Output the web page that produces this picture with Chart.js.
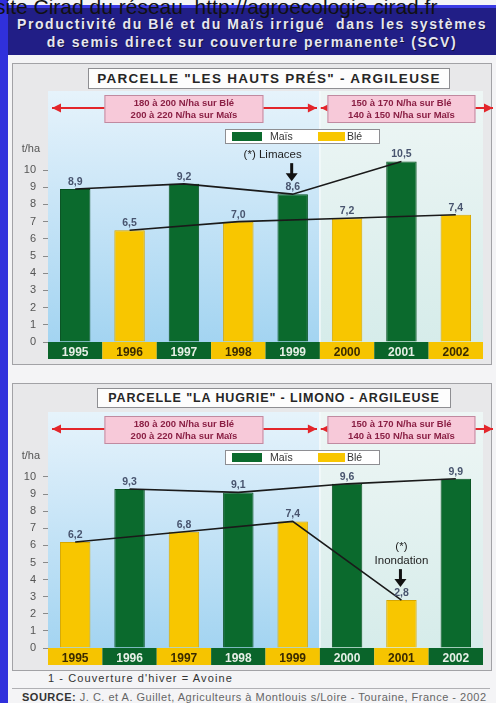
<!DOCTYPE html>
<html>
<head>
<meta charset="utf-8">
<script src="https://cdn.jsdelivr.net/npm/chart.js@4.4.1/dist/chart.umd.min.js"></script>
<style>
    body { margin: 0; width: 496px; height: 703px; overflow: hidden; position: relative; background: #f4f4f6; font-family: "Liberation Sans", Arial, sans-serif; }
    .leftBar { position: absolute; left: 0; top: 0; width: 8px; height: 703px; background: #3030dc; z-index: 4; }
    .topLink { position: absolute; left: -5px; top: -5px; font-size: 21px; color: #111; white-space: nowrap; z-index: 5; }
    .header { position: absolute; left: 8px; top: 5px; width: 488px; height: 47px; background: #211e86; border-top: 3px solid #3b3be4; }
    .header div { color: #e6e6f0; font-weight: bold; font-size: 14px; text-align: center; letter-spacing: 1.6px; white-space: nowrap; text-shadow: 1px 1px 0 #111140; }
    .panel { position: absolute; left: 12px; width: 478px; background: #e8e8ea; border: 1px solid #a2a2a6; }
    .ptitle { position: absolute; background: #fdfdfd; border: 1px solid #8e8e92; font-weight: bold; font-size: 13.5px; letter-spacing: 1.3px; text-align: center; color: #262626; z-index: 3; white-space: nowrap; }
    canvas { position: absolute; left: 12px; z-index: 2; }
    .note { position: absolute; font-size: 11px; letter-spacing: 0.5px; color: #333; white-space: nowrap; }
    .rule { position: absolute; left: 12px; top: 688px; width: 478px; height: 1px; background: #b0b0b4; }
</style>
</head>
<body>
<div class="leftBar"></div>
<div class="topLink">site Cirad du réseau&nbsp; http://agroecologie.cirad.fr</div>
<div class="header">
    <div style="margin-top:8px">Productivité du Blé et du Maïs irrigué&nbsp; dans les systèmes</div>
    <div style="margin-top:2px">de semis direct sur couverture permanente¹ (SCV)</div>
</div>

<div class="panel" style="top:63px;height:300px"></div>
<div class="ptitle" style="left:88px;top:68px;width:360px;height:19px;line-height:19px">PARCELLE "LES HAUTS PRÉS" - ARGILEUSE</div>
<canvas id="chartHautsPres" width="484" height="302" style="top:63px"></canvas>

<div class="panel" style="top:383px;height:286px"></div>
<div class="ptitle" style="left:97px;top:388px;width:352px;height:18px;line-height:18px;font-size:12.5px;letter-spacing:0.9px">PARCELLE "LA HUGRIE" - LIMONO - ARGILEUSE</div>
<canvas id="chartHugrie" width="484" height="288" style="top:383px"></canvas>

<div class="note" style="left:48px;top:672px;letter-spacing:1.1px">1 - Couverture d'hiver = Avoine</div>
<div class="rule"></div>
<div class="note" style="left:22px;top:691px;color:#666;letter-spacing:0.5px"><b style="color:#333">SOURCE:</b> J. C. et A. Guillet, Agriculteurs à Montlouis s/Loire - Touraine, France - 2002</div>

<script>
    // annees
    const years1 = ['1995', '1996', '1997', '1998', '1999', '2000', '2001', '2002'];
    const years2 = ['1995', '1996', '1997', '1998', '1999', '2000', '2001', '2002'];

    // rendements t/ha - parcelle "Les Hauts Prés"
    const mais1 = [8.9, null, 9.2, null, 8.6, null, 10.5, null];
    const ble1 = [null, 6.5, null, 7.0, null, 7.2, null, 7.4];

    // rendements t/ha - parcelle "La Hugrie"
    const mais2 = [null, 9.3, null, 9.1, null, 9.6, null, 9.9];
    const ble2 = [6.2, null, 6.8, null, 7.4, null, 2.8, null];

    const yTicks = [0, 1, 2, 3, 4, 5, 6, 7, 8, 9, 10];

    // fumure azotee (avant / apres 2000)
    const doseAvant = ['180 à 200 N/ha sur Blé', '200 à 220 N/ha sur Maïs'];
    const doseApres = ['150 à 170 N/ha sur Blé', '140 à 150 N/ha sur Maïs'];
    const firstYearApres = 5; // index de 2000

    const note1 = { index: 4, text: ['(*) Limaces'] };
    const note2 = { index: 6, text: ['(*)', 'Inondation'] };

    const colMais = '#0b6a2d';
    const colBle = '#f8c600';
    const FONT = '"Liberation Sans", Arial, sans-serif';

    function fmt(v) {
        return v.toFixed(1).replace('.', ',');
    }

    function arrow(ctx, x1, x2, y, dir) {
        // dir = -1 pointe a gauche, 1 a droite
        let tip = dir < 0 ? x1 : x2;
        ctx.beginPath();
        ctx.moveTo(x1, y);
        ctx.lineTo(x2, y);
        ctx.stroke();
        ctx.beginPath();
        ctx.moveTo(tip, y);
        ctx.lineTo(tip - dir * 9, y - 4.5);
        ctx.lineTo(tip - dir * 9, y + 4.5);
        ctx.closePath();
        ctx.fill();
    }

    function pinkBox(ctx, cx, w, top, h, lines) {
        ctx.fillStyle = '#f7c9d9';
        ctx.fillRect(cx - w / 2, top, w, h);
        ctx.strokeStyle = '#c08aa0';
        ctx.lineWidth = 1;
        ctx.strokeRect(cx - w / 2 + 0.5, top + 0.5, w - 1, h - 1);
        ctx.fillStyle = '#8a1f44';
        ctx.font = 'bold 9.5px ' + FONT;
        ctx.textAlign = 'center';
        ctx.textBaseline = 'middle';
        ctx.fillText(lines[0], cx, top + h / 2 - 6);
        ctx.fillText(lines[1], cx, top + h / 2 + 6);
    }

    const decor = {
        id: 'decor',
        beforeDraw: function (chart) {
            const ctx = chart.ctx;
            const ca = chart.chartArea;
            const x = chart.scales.x;
            const step = x.getPixelForValue(1) - x.getPixelForValue(0);
            const split = (x.getPixelForValue(firstYearApres - 1) + x.getPixelForValue(firstYearApres)) / 2;
            ctx.save();

            let g1 = ctx.createLinearGradient(0, ca.top, 0, ca.bottom);
            g1.addColorStop(0, '#e6f3fb');
            g1.addColorStop(0.35, '#cfe8f8');
            g1.addColorStop(1, '#a3d4f1');
            ctx.fillStyle = g1;
            ctx.fillRect(ca.left, ca.top, split - ca.left, ca.bottom - ca.top);

            let g2 = ctx.createLinearGradient(0, ca.top, 0, ca.bottom);
            g2.addColorStop(0, '#eef6f5');
            g2.addColorStop(1, '#d6ecea');
            ctx.fillStyle = g2;
            ctx.fillRect(split, ca.top, ca.right - split, ca.bottom - ca.top);

            ctx.strokeStyle = '#f6fafc';
            ctx.lineWidth = 1.5;
            ctx.beginPath();
            ctx.moveTo(split, ca.top);
            ctx.lineTo(split, ca.bottom);
            ctx.stroke();

            // cases des annees
            const ds = chart.data.datasets;
            for (let i = 0; i < chart.data.labels.length; i++) {
                let isMais = ds[2].data[i] !== null;
                ctx.fillStyle = isMais ? '#0a642a' : '#f6c400';
                let px = x.getPixelForValue(i);
                ctx.fillRect(px - step / 2, ca.bottom, step, 17);
            }
            ctx.restore();
        },
        beforeDatasetsDraw: function (chart) {
            const ctx = chart.ctx;
            const ca = chart.chartArea;
            const x = chart.scales.x;
            const y = chart.scales.y;
            const split = (x.getPixelForValue(firstYearApres - 1) + x.getPixelForValue(firstYearApres)) / 2;
            ctx.save();

            // fleches rouges + cartouches
            ctx.strokeStyle = '#e3262b';
            ctx.fillStyle = '#e3262b';
            ctx.lineWidth = 2;
            let ay = ca.top + 17;
            arrow(ctx, ca.left + 4, split - 3, ay, -1);
            arrow(ctx, ca.left + 4, split - 3, ay, 1);
            arrow(ctx, split + 1, chart.width - 3, ay, -1);
            arrow(ctx, split + 1, chart.width - 3, ay, 1);
            pinkBox(ctx, (ca.left + split) / 2, 159, ca.top + 4, 28, doseAvant);
            pinkBox(ctx, (split + ca.right) / 2, 148, ca.top + 4, 28, doseApres);

            // legende
            let lx = 213, ly = ca.top + 38;
            ctx.fillStyle = '#ffffff';
            ctx.fillRect(lx, ly, 155, 15);
            ctx.strokeStyle = '#8e8e92';
            ctx.lineWidth = 1;
            ctx.strokeRect(lx + 0.5, ly + 0.5, 154, 14);
            ctx.fillStyle = colMais;
            ctx.fillRect(lx + 7, ly + 3, 30, 9);
            ctx.fillStyle = colBle;
            ctx.fillRect(lx + 93, ly + 3, 27, 9);
            ctx.fillStyle = '#333';
            ctx.font = '10.5px ' + FONT;
            ctx.textAlign = 'left';
            ctx.textBaseline = 'middle';
            ctx.fillText(chart.data.datasets[2].label, lx + 45, ly + 8);
            ctx.fillText(chart.data.datasets[3].label, lx + 122, ly + 8);

            // unite
            ctx.fillStyle = '#555';
            ctx.font = '11px ' + FONT;
            ctx.textAlign = 'right';
            ctx.fillText('t/ha', ca.left - 8, y.getPixelForValue(11.2));
            ctx.restore();
        },
        afterDatasetsDraw: function (chart, args, opts) {
            const ctx = chart.ctx;
            const x = chart.scales.x;
            const y = chart.scales.y;
            ctx.save();
            ctx.font = 'bold 10.5px ' + FONT;
            ctx.fillStyle = '#48546e';
            ctx.textAlign = 'center';
            ctx.textBaseline = 'alphabetic';
            for (let d of [2, 3]) {
                let data = chart.data.datasets[d].data;
                for (let i = 0; i < data.length; i++) {
                    if (data[i] === null) continue;
                    ctx.fillText(fmt(data[i]), x.getPixelForValue(i), y.getPixelForValue(data[i]) - 4);
                }
            }

            // annotation (*)
            let n = opts.note;
            let v = chart.data.datasets[2].data[n.index];
            if (v === null) v = chart.data.datasets[3].data[n.index];
            let bx = x.getPixelForValue(n.index);
            let top = y.getPixelForValue(v);
            ctx.font = '11.5px ' + FONT;
            ctx.fillStyle = '#1e1e1e';
            for (let k = 0; k < n.text.length; k++) {
                let ty = top - 36 - (n.text.length - 1 - k) * 14;
                ctx.fillText(n.text[k], bx + opts.noteDx, ty);
            }
            ctx.strokeStyle = '#111';
            ctx.fillStyle = '#111';
            ctx.lineWidth = 3;
            ctx.beginPath();
            ctx.moveTo(bx - 1, top - 31);
            ctx.lineTo(bx - 1, top - 20);
            ctx.stroke();
            ctx.beginPath();
            ctx.moveTo(bx - 7, top - 21);
            ctx.lineTo(bx + 5, top - 21);
            ctx.lineTo(bx - 1, top - 13);
            ctx.closePath();
            ctx.fill();
            ctx.restore();
        }
    };

    function drawPanel(id, labels, mais, ble, yMax, padTop, note, noteDx) {
        let ctx = document.getElementById(id).getContext('2d');
        return new Chart(ctx, {
            type: 'bar',
            data: {
                labels: labels,
                datasets: [
                    { type: 'line', label: 'Maïs ligne', data: mais, spanGaps: true, borderColor: '#1a1a1a', borderWidth: 1.6, pointRadius: 0, order: 0 },
                    { type: 'line', label: 'Blé ligne', data: ble, spanGaps: true, borderColor: '#1a1a1a', borderWidth: 1.6, pointRadius: 0, order: 0 },
                    { label: 'Maïs', data: mais, backgroundColor: colMais, borderColor: '#06501f', borderWidth: 1, grouped: false, barPercentage: 0.56, categoryPercentage: 1, order: 1 },
                    { label: 'Blé', data: ble, backgroundColor: colBle, borderColor: '#d7a700', borderWidth: 1, grouped: false, barPercentage: 0.56, categoryPercentage: 1, order: 1 }
                ]
            },
            plugins: [decor],
            options: {
                responsive: false,
                animation: false,
                layout: { padding: { top: padTop, right: 13, left: 0, bottom: 0 } },
                plugins: {
                    legend: { display: false },
                    tooltip: { enabled: false },
                    decor: { note: note, noteDx: noteDx }
                },
                scales: {
                    x: {
                        grid: { display: false, drawTicks: false },
                        border: { display: false },
                        ticks: {
                            padding: 3,
                            font: { size: 12, weight: 'bold', family: FONT },
                            color: function (c) {
                                return mais[c.index] !== null ? '#e6efe6' : '#3a2a00';
                            }
                        },
                        afterFit: function (s) { s.height = 23; }
                    },
                    y: {
                        min: 0,
                        max: yMax,
                        afterBuildTicks: function (s) {
                            s.ticks = yTicks.map(function (v) { return { value: v }; });
                        },
                        ticks: { padding: 7, color: '#555', font: { size: 11, family: FONT } },
                        grid: { drawOnChartArea: false, tickLength: 5, color: '#8a8a8a' },
                        border: { display: false },
                        afterFit: function (s) { s.width = 36; }
                    }
                }
            }
        });
    }

    drawPanel('chartHautsPres', years1, mais1, ble1, 14.6, 28, note1, -20);
    drawPanel('chartHugrie', years2, mais2, ble2, 13.8, 29, note2, 0);
</script>
</body>
</html>
